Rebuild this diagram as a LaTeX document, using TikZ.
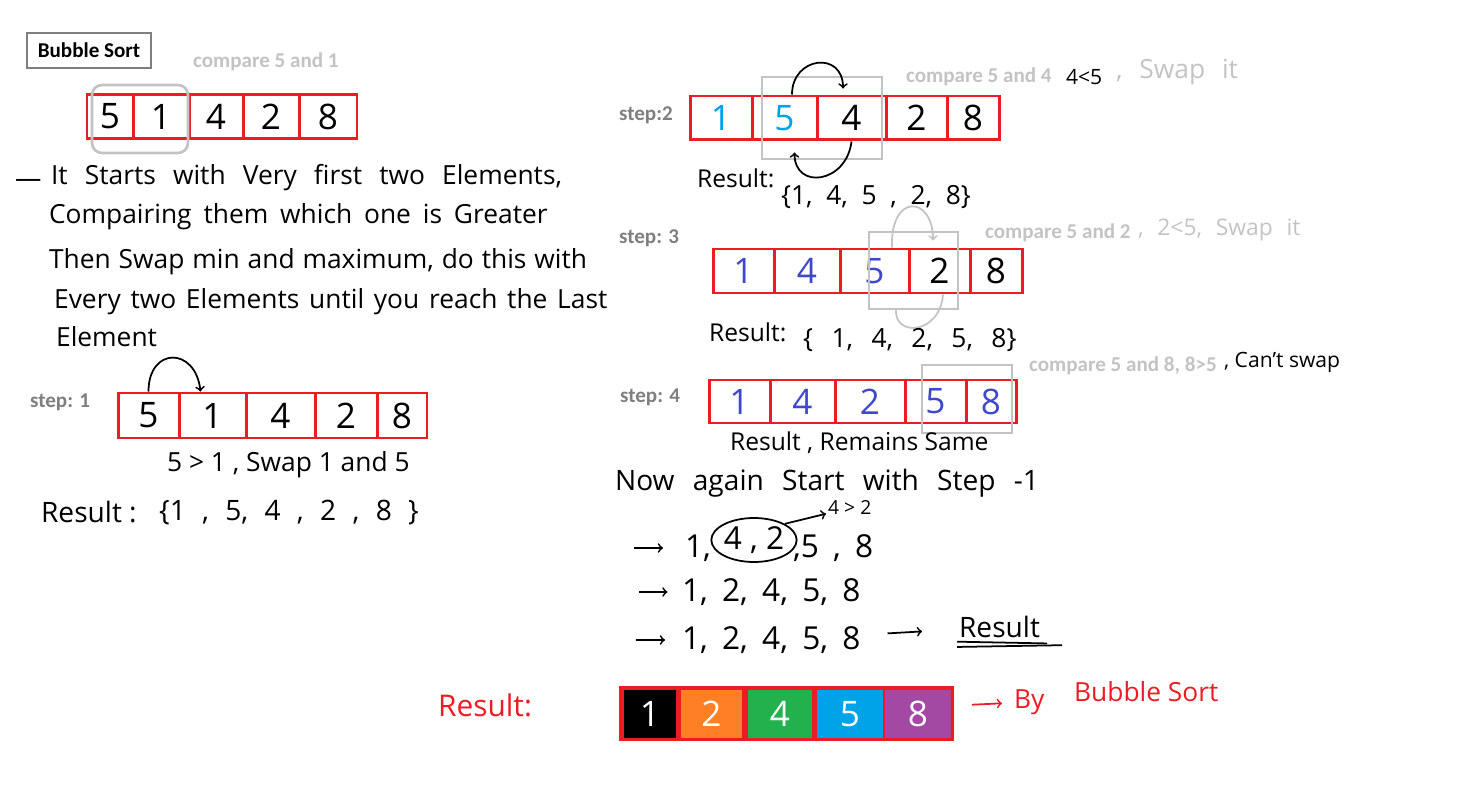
\documentclass[tikz,border=0pt]{standalone}
\usepackage{fontspec}
\setmainfont{Open Sans}
\newfontfamily\labelfont{Carlito}
\usetikzlibrary{shapes.geometric}
\definecolor{pred}{HTML}{ED1C24}
\definecolor{pgray}{HTML}{7F7F7F}
\definecolor{pgrayl}{HTML}{C3C3C3}
\definecolor{pblue}{HTML}{3F48CC}
\definecolor{pcyan}{HTML}{00A2E8}
\definecolor{porange}{HTML}{FF7F27}
\definecolor{pgreen}{HTML}{22B14C}
\definecolor{ppurple}{HTML}{A349A4}
\begin{document}
\begin{tikzpicture}[x=0.02cm, y=-0.02cm, every node/.style={inner sep=1pt},
  cell/.style={draw=pred,line width=1.7pt,minimum height=0.88cm,inner sep=0pt,font=\fontsize{20}{22}\selectfont},
  hilite/.style={draw=pgrayl,line width=1.5pt,inner sep=0pt},
  tag/.style={anchor=west,text=pgray,font=\labelfont\bfseries\fontsize{12}{14}\selectfont},
  cmp/.style={tag,text=pgrayl},
  hand/.style={anchor=west,font=\fontsize{15}{18}\selectfont},
  wide/.style={execute at begin node={\spaceskip=#1\relax}},
  swaparrow/.style={->,line width=1pt},
  done/.style={minimum height=0.96cm,inner sep=0pt,text=white,font=\fontsize{20}{22}\selectfont}]
\useasboundingbox (0,0) rectangle (1484,800);
\node[draw=pgray,line width=1.5pt,minimum width=2.48cm,minimum height=0.7cm,font=\labelfont\bfseries\fontsize{12}{14}\selectfont] (title) at (89,50.5) {Bubble Sort};
\node[cmp] (cmp1) at (191,62) {compare 5 and 1};
% first array
\node[cell,minimum width=0.92cm] (a1) at (110,116.5) {5};
\node[cell,minimum width=1.12cm] (a2) at (161,116.5) {1};
\node[cell,minimum width=1.08cm] (a3) at (216,116.5) {4};
\node[cell,minimum width=1.12cm] (a4) at (271,116.5) {2};
\node[cell,minimum width=1.16cm] (a5) at (328,116.5) {8};
\node[hilite,rounded corners=0.2cm,minimum width=1.92cm,minimum height=1.36cm] (h1) at (140,119) {};
% text
\node[hand] (dash) at (13,183) {—};
\node[hand,wide=0.65em] (p1) at (49,178) {It Starts with Very first two Elements,};
\node[hand,wide=0.45em] (p2) at (47,217) {Compairing them which one is Greater};
\node[hand,wide=0.3em] (p3) at (47,262) {Then Swap min and maximum, do this with};
\node[hand,wide=0.37em] (p4) at (52,302) {Every two Elements until you reach the Last};
\node[hand] (p5) at (54,337) {Element};
% step 1
\node[tag] (st1) at (28,402) {step: 1};
\node[cell,minimum width=1.22cm,minimum height=0.9cm] (b1) at (148.5,415.5) {5};
\node[cell,minimum width=1.34cm,minimum height=0.9cm] (b2) at (212.5,415.5) {1};
\node[cell,minimum width=1.38cm,minimum height=0.9cm] (b3) at (280.5,415.5) {4};
\node[cell,minimum width=1.24cm,minimum height=0.9cm] (b4) at (346,415.5) {2};
\node[cell,minimum width=1.00cm,minimum height=0.9cm] (b5) at (402,415.5) {8};
\draw[swaparrow] (b1.north) .. controls +(0,-45) and +(-5,-45) .. ([xshift=-0.24cm]b2.north);
\node[hand] (n1) at (165,465) {5 > 1 , Swap 1 and 5};
\node[hand,font=\fontsize{16}{18}\selectfont] (r1lbl) at (39,512) {Result :};
\node[hand,font=\fontsize{16}{18}\selectfont,wide=0.58em] (r1) at (157,513) {\{1 , 5, 4 , 2 , 8 \}};
% step 2
\node[tag] (st2) at (617,115) {step:2};
\node[cell,minimum width=1.24cm,text=pcyan] (c1) at (721,118) {1};
\node[cell,minimum width=1.30cm,text=pcyan] (c2) at (784.5,118) {5};
\node[cell,minimum width=1.38cm] (c3) at (851.5,118) {4};
\node[cell,minimum width=1.22cm] (c4) at (916.5,118) {2};
\node[cell,minimum width=1.04cm] (c5) at (973,118) {8};
\node[hilite,minimum width=2.40cm,minimum height=1.64cm] (h2) at (822,118) {};
\draw[swaparrow] ([xshift=0.15cm]c2.north) .. controls +(0,-38) and +(0,-38) .. ([xshift=-0.17cm,yshift=0.12cm]c3.north);
\draw[swaparrow] (c3.south) .. controls +(-5,42) and +(0,38) .. ([xshift=0.2cm,yshift=-0.22cm]c2.south);
\node[cmp] (cmp2) at (904,77) {compare 5 and 4};
\node[hand,font=\fontsize{12}{14}\selectfont] (lt2) at (1064,77) {4<5};
\node[hand,text=pgrayl,wide=0.64em] (sw2) at (1114,72) {, Swap it};
\node[hand,font=\fontsize{14}{16}\selectfont] (r2lbl) at (695,178) {Result:};
\node[hand,wide=0.52em] (r2) at (779,197) {\{1, 4, 5 , 2, 8\}};
% step 3
\node[tag] (st3) at (617,238) {step: 3};
\node[cell,minimum width=1.22cm,text=pblue] (d1) at (743.5,271) {1};
\node[cell,minimum width=1.32cm,text=pblue] (d2) at (807,271) {4};
\node[cell,minimum width=1.38cm,text=pblue] (d3) at (874.5,271) {5};
\node[cell,minimum width=1.22cm] (d4) at (939.5,271) {2};
\node[cell,minimum width=1.04cm] (d5) at (996,271) {8};
\node[hilite,minimum width=1.78cm,minimum height=1.54cm] (h3) at (913.5,270.5) {};
\draw[swaparrow,pgrayl] ([xshift=0.35cm]d3.north) .. controls +(-2,-55) and +(0,-45) .. ([xshift=-0.13cm,yshift=0.14cm]d4.north);
\draw[line width=1pt,pgrayl] ([xshift=0.07cm]d4.south) .. controls +(-3,40) and +(-2,28) .. ([xshift=0.43cm,yshift=-0.3cm]d3.south);
\node[cmp] (cmp3) at (983,233) {compare 5 and 2};
\node[hand,text=pgrayl,font=\fontsize{13}{15}\selectfont,wide=0.6em] (sw3) at (1136,230) {, 2<5, Swap it};
\node[hand,font=\fontsize{14}{16}\selectfont] (r3lbl) at (707,332) {Result:};
\node[hand,wide=0.7em] (r3) at (801,340) {\{ 1, 4, 2, 5, 8\}};
% step 4
\node[tag] (st4) at (618,397) {step: 4};
\node[cell,minimum width=1.22cm,minimum height=0.86cm,text=pblue] (e1) at (739.5,401.5) {1};
\node[cell,minimum width=1.30cm,minimum height=0.86cm,text=pblue] (e2) at (802.5,401.5) {4};
\node[cell,minimum width=1.40cm,minimum height=0.86cm,text=pblue] (e3) at (870,401.5) {2};
\node[cell,minimum width=1.22cm,minimum height=0.86cm,text=pblue] (e4) at (935.5,401.5) {5};
\node[cell,minimum width=1.00cm,minimum height=0.86cm,text=pblue] (e5) at (991,401.5) {8};
\node[hilite,minimum width=1.80cm,minimum height=1.36cm] (h4) at (967,399) {};
\node[cmp] (cmp4) at (1027,366) {compare 5 and 8, 8>5};
\node[hand,font=\fontsize{12}{14}\selectfont] (sw4) at (1222,362) {, Can't swap};
\node[hand,font=\fontsize{14}{16}\selectfont] (same) at (728,443) {Result , Remains Same};
% second pass
\node[hand,font=\fontsize{16}{18}\selectfont,wide=0.65em] (again) at (613,483) {Now again Start with Step -1};
\coordinate (ar1) at (634,548);
\node[hand,font=\fontsize{18}{20}\selectfont] (q1a) at (683,548) {1,};
\node[draw,ellipse,line width=1pt,minimum width=1.4cm,minimum height=0.88cm,inner sep=0pt,font=\fontsize{18}{20}\selectfont] (pair) at (754,540) {4 , 2};
\node[hand,font=\fontsize{18}{20}\selectfont,wide=0.45em] (q1b) at (791,548) {,5 , 8};
\node[hand,font=\fontsize{11}{13}\selectfont] (gt) at (826,508) {4 > 2};
\draw[swaparrow,shorten >=0.4cm] (ar1) -- (q1a);
\draw[swaparrow] (pair.north east) -- (gt);
\coordinate (ar2) at (639,592);
\node[hand,font=\fontsize{18}{20}\selectfont,wide=0.45em] (q2) at (680,592) {1, 2, 4, 5, 8};
\draw[swaparrow,shorten >=0.25cm] (ar2) -- (q2);
\coordinate (ar3) at (636,640);
\node[hand,font=\fontsize{18}{20}\selectfont,wide=0.45em] (q3) at (680,640) {1, 2, 4, 5, 8};
\draw[swaparrow,shorten >=0.3cm] (ar3) -- (q3);
\node[hand,font=\fontsize{16}{18}\selectfont] (fin) at (957,627) {Result};
\draw[swaparrow,shorten <=0.5cm,shorten >=0.7cm] (q3) -- (fin);
\draw[line width=1pt] ([yshift=-1pt]fin.south west) -- ([xshift=0.1cm,yshift=-2pt]fin.south east);
\draw[line width=1pt] ([yshift=-4pt]fin.south west) -- ([xshift=0.4cm,yshift=-3pt]fin.south east);
% sorted result
\node[hand,text=pred,font=\fontsize{17}{19}\selectfont] (fres) at (436,705) {Result:};
\node[fill=pred,minimum width=6.7cm,minimum height=1.1cm] (resbar) at (786.5,713.5) {};
\node[done,fill=black,minimum width=1.04cm] (f1) at (650,714) {1};
\node[done,fill=porange,minimum width=1.22cm] (f2) at (711.5,714) {2};
\node[done,fill=pgreen,minimum width=1.28cm] (f3) at (780,714) {4};
\node[done,fill=pcyan,minimum width=1.32cm] (f4) at (850,714) {5};
\node[done,fill=ppurple,minimum width=1.32cm] (f5) at (918,714) {8};
\node[hand,text=pred] (by) at (1012,702) {By};
\node[hand,text=pred] (bs) at (1072,692) {Bubble Sort};
\draw[swaparrow,pred,shorten <=0.35cm,shorten >=0.2cm] (resbar) -- (by);
\end{tikzpicture}
\end{document}
